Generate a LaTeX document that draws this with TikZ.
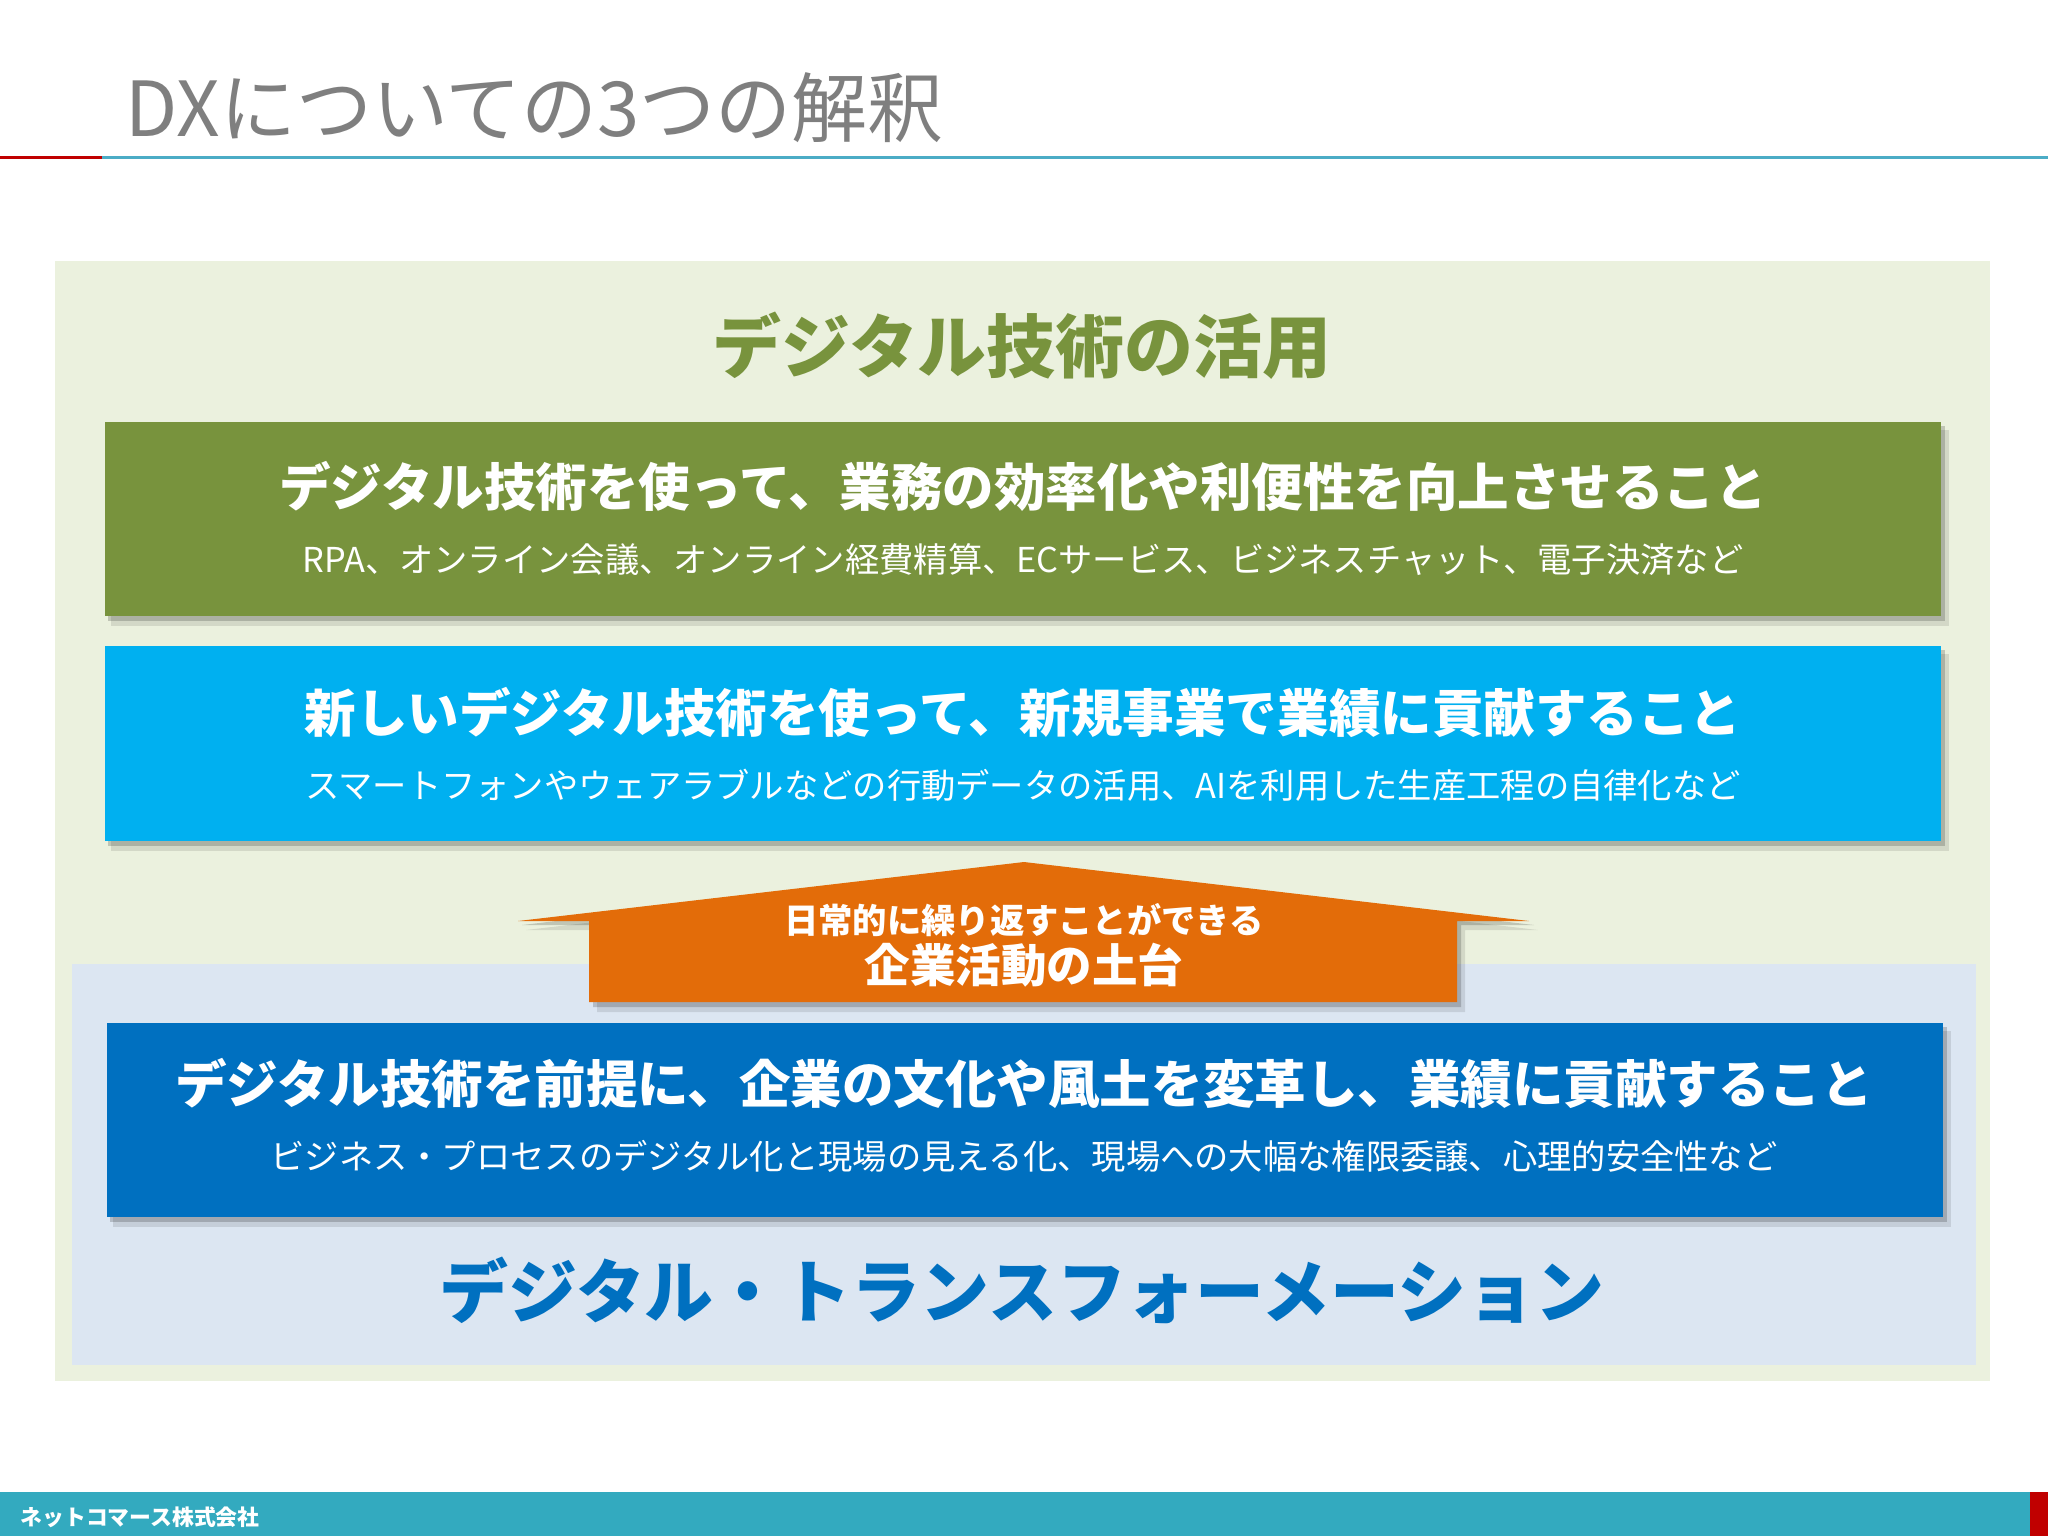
\documentclass[tikz,border=0pt]{standalone}
\usepackage{fontspec}
\setmainfont{Noto Sans CJK JP}
\definecolor{olivebg}{HTML}{EBF1DE}
\definecolor{bluebg}{HTML}{DCE6F2}
\definecolor{olivebox}{HTML}{78933D}
\definecolor{cyanbox}{HTML}{00B0F0}
\definecolor{bluebox}{HTML}{0070C0}
\definecolor{orangearr}{HTML}{E36C09}
\definecolor{titlegray}{HTML}{7F7F7F}
\definecolor{tealbar}{HTML}{33AABF}
\definecolor{tealline}{HTML}{4BACC6}
\definecolor{redmark}{HTML}{C00000}
\tikzset{
  boxtitle/.style={text=white, inner sep=0pt, font=\fontsize{14.65}{18}\selectfont\bfseries},
  boxsub/.style={text=white, inner sep=0pt, font=\fontsize{9.75}{12}\selectfont},
  heading/.style={inner sep=0pt, font=\fontsize{19.6}{23}\selectfont\bfseries},
  shadowA/.style={fill=black, opacity=0.10},
  shadowB/.style={fill=black, opacity=0.18},
}
\begin{document}
\begin{tikzpicture}[x=0.01cm,y=-0.01cm]
\path[use as bounding box, fill=white] (0,0) rectangle (2048,1536);

% title
\node[anchor=west, inner sep=0pt, text=titlegray, font=\fontsize{21.6}{25}\selectfont] (title) at (125,108) {DXについての3つの解釈};
\fill[redmark] (0,155.5) rectangle (102,158.5);
\fill[tealline] (102,155.5) rectangle (2048,158.5);

% backgrounds
\fill[olivebg] (55,261) rectangle (1990,1381);
\fill[bluebg] (72,964) rectangle (1976,1365);

% heading top
\node[heading, text=olivebox] (h1) at (1022,346) {デジタル技術の活用};

% box 1
\fill[shadowA] (111,430) rectangle (1949,626);
\fill[shadowB] (108,426) rectangle (1945,621);
\fill[olivebox] (105,422) rectangle (1941,616);
\node[boxtitle] (t1) at (1023,486) {デジタル技術を使って、業務の効率化や利便性を向上させること};
\node[boxsub] (s1) at (1023,560) {RPA、オンライン会議、オンライン経費精算、ECサービス、ビジネスチャット、電子決済など};

% box 2
\fill[shadowA] (111,654) rectangle (1949,851);
\fill[shadowB] (108,650) rectangle (1945,846);
\fill[cyanbox] (105,646) rectangle (1941,841);
\node[boxtitle] (t2) at (1023,712) {新しいデジタル技術を使って、新規事業で業績に貢献すること};
\node[boxsub] (s2) at (1023,785) {スマートフォンやウェアラブルなどの行動データの活用、AIを利用した生産工程の自律化など};

% arrow
\fill[shadowA] (526,930) -- (1032,871) -- (1538,930) -- (1465,930) -- (1465,1012) -- (597,1012) -- (597,930) -- cycle;
\fill[shadowB] (522,925) -- (1028,866) -- (1534,925) -- (1461,925) -- (1461,1007) -- (593,1007) -- (593,925) -- cycle;
\fill[orangearr] (518,921) -- (1024,862) -- (1529,921) -- (1457,921) -- (1457,1002) -- (589,1002) -- (589,921) -- cycle;
\node[text=white, inner sep=0pt, font=\fontsize{9.76}{12}\selectfont\bfseries] (a1) at (1024,920) {日常的に繰り返すことができる};
\node[text=white, inner sep=0pt, font=\fontsize{12.95}{15}\selectfont\bfseries] (a2) at (1024,965) {企業活動の土台};

% box 3
\fill[shadowA] (113,1031) rectangle (1951,1227);
\fill[shadowB] (110,1027) rectangle (1947,1222);
\fill[bluebox] (107,1023) rectangle (1943,1217);
\node[boxtitle] (t3) at (1024,1083) {デジタル技術を前提に、企業の文化や風土を変革し、業績に貢献すること};
\node[boxsub] (s3) at (1024,1156) {ビジネス・プロセスのデジタル化と現場の見える化、現場への大幅な権限委譲、心理的安全性など};

% heading bottom
\node[heading, text=bluebox] (h2) at (1022,1290) {デジタル・トランスフォーメーション};

% footer
\fill[tealbar] (0,1492) rectangle (2048,1536);
\fill[redmark] (2030,1492) rectangle (2048,1536);
\node[anchor=west, inner sep=0pt, text=white, font=\fontsize{6.2}{8}\selectfont\bfseries] (foot) at (20,1517) {ネットコマース株式会社};
\end{tikzpicture}
\end{document}
